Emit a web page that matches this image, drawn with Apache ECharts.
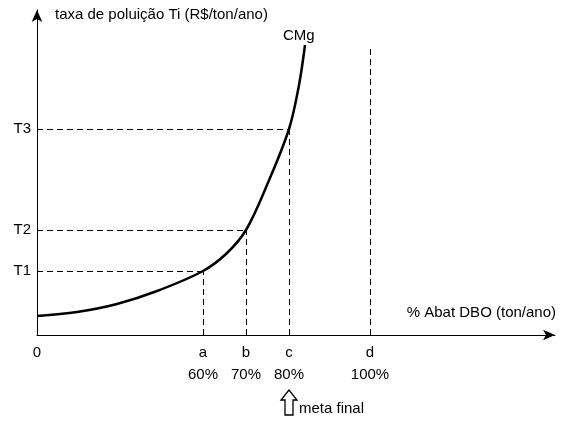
<!DOCTYPE html><html><head><meta charset="utf-8"><script src="https://cdn.jsdelivr.net/npm/echarts@6/dist/echarts.min.js"></script>
<style>html,body{margin:0;background:#fff}#c{width:563px;height:423px}</style></head><body><div id="c"></div><script>
const curveX=[0,40,80,120,166,190,209,230,252,262,268];
const curveY=[19,23,31,44,64,82,105,150,206,250,290];
const tickNames=['a','b','c','d'];
const tickPct=['60%','70%','80%','100%'];
const tickX=[166,209,252,333];
const tickTopY=[64,105,206,290];
const levelNames=['T1','T2','T3'];
const levelY=[64,105,206];
const levelX=[166,209,252];
const ch=echarts.init(document.getElementById('c'));
const F='Liberation Sans, Arial, sans-serif';
const lines=[];
levelY.forEach((y,i)=>lines.push([{coord:[0,y]},{coord:[levelX[i],y]}]));
tickX.forEach((x,i)=>lines.push([{coord:[x,0]},{coord:[x,tickTopY[i]]}]));
ch.setOption({animation:false,
grid:{left:37,top:10,right:8,bottom:88},
xAxis:{type:'value',min:0,max:518,splitLine:{show:false},axisTick:{show:false},axisLabel:{show:false},
 axisLine:{lineStyle:{color:'#000',width:1},symbol:['none','arrow'],symbolSize:[8,12]}},
yAxis:{type:'value',min:0,max:325,splitLine:{show:false},axisTick:{show:false},axisLabel:{show:false},
 axisLine:{lineStyle:{color:'#000',width:1},symbol:['none','arrow'],symbolSize:[8,12]}},
series:[{type:'line',smooth:0.35,symbol:'none',data:curveX.map((x,i)=>[x,curveY[i]]),lineStyle:{color:'#000',width:2.5},
 markLine:{silent:true,symbol:'none',label:{show:false},lineStyle:{type:[6,4],color:'#000',width:1},data:lines}}]});
const g=[];
const txt=(x,y,t,align,extra)=>g.push(Object.assign({type:'text',x,y,style:{text:t,font:'15px '+F,fill:'#000',align:align||'center',verticalAlign:'middle'}},extra||{}));
levelNames.forEach((n,i)=>{const p=ch.convertToPixel({gridIndex:0},[0,levelY[i]]);txt(p[0]-6,p[1],n,'right');});
tickNames.forEach((n,i)=>{const p=ch.convertToPixel({gridIndex:0},[tickX[i],0]);txt(p[0],p[1]+18,n);txt(p[0],p[1]+40,tickPct[i]);});
const o=ch.convertToPixel({gridIndex:0},[0,0]);txt(o[0],o[1]+18,'0');
txt(55,15,'taxa de poluição Ti (R$/ton/ano)','left');
txt(283,36,'CMg','left');
txt(556,313,'% Abat DBO (ton/ano)','right');
const c=ch.convertToPixel({gridIndex:0},[tickX[2],0]);
const ax=c[0],ay=c[1]+55;
g.push({type:'polygon',shape:{points:[[ax,ay],[ax-8,ay+10],[ax-4,ay+10],[ax-4,ay+25],[ax+4,ay+25],[ax+4,ay+10],[ax+8,ay+10]]},style:{fill:'#fff',stroke:'#000',lineWidth:1.3}});
txt(ax+10,ay+19,'meta final','left');
ch.setOption({graphic:g});
</script></body></html>
